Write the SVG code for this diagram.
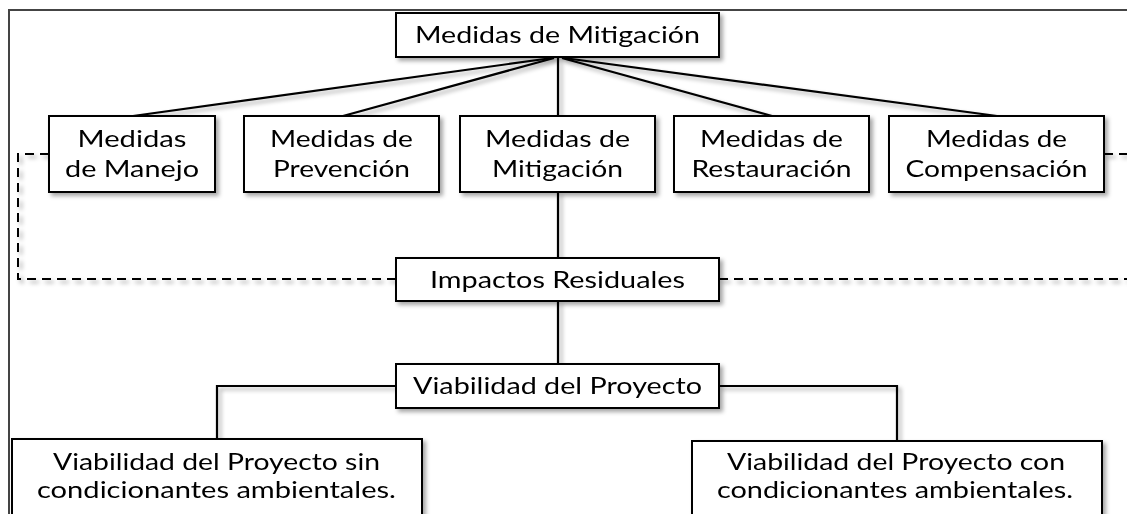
<svg xmlns="http://www.w3.org/2000/svg" width="1127" height="514" viewBox="0 0 1127 514">
<defs>
<style>
.box{fill:#fff;stroke:#000;stroke-width:2}
.t{font-family:Lato,"Open Sans",sans-serif;font-size:23.5px;fill:#000;text-anchor:middle}
.ln{fill:none;stroke:#000;stroke-width:2.2}
.dash{fill:none;stroke:#000;stroke-width:2;stroke-dasharray:9,6}
</style>
<filter id="sh" x="-10%" y="-10%" width="130%" height="140%">
<feDropShadow dx="3" dy="3" stdDeviation="2" flood-color="#000" flood-opacity="0.35"/>
</filter>
</defs>
<rect x="0" y="0" width="1127" height="514" fill="#fff"/>
<path d="M9,514 V10 H1127" fill="none" stroke="#444" stroke-width="2"/>
<g id="connectors" filter="url(#sh)">
<path class="ln" d="M552,58 L133,116"/>
<path class="ln" d="M554,58 L343,116"/>
<path class="ln" d="M558,58 L558,116"/>
<path class="ln" d="M562,58 L772,116"/>
<path class="ln" d="M564,58 L997,116"/>
<path class="ln" d="M558,192 V258"/>
<path class="ln" d="M558,301 V364"/>
<path class="ln" d="M396,386 H217 V439"/>
<path class="ln" d="M719,386 H897 V441"/>
<path class="dash" d="M49,154 H18 V279 H396"/>
<path class="dash" d="M719,279 H1127"/>
<path class="dash" d="M1104,154 H1127"/>
</g>
<g id="n-top" filter="url(#sh)">
<rect class="box" x="396" y="13" width="323" height="44"/>
<text class="t" x="557.5" y="43" textLength="285" lengthAdjust="spacingAndGlyphs">Medidas de Mitigación</text>
</g>
<g id="n-manejo" filter="url(#sh)">
<rect class="box" x="49" y="116" width="166" height="76"/>
<text class="t" x="132" y="147" textLength="109" lengthAdjust="spacingAndGlyphs">Medidas</text>
<text class="t" x="132" y="177" textLength="134" lengthAdjust="spacingAndGlyphs">de Manejo</text>
</g>
<g id="n-prevencion" filter="url(#sh)">
<rect class="box" x="244" y="116" width="195" height="76"/>
<text class="t" x="341.5" y="147" textLength="143" lengthAdjust="spacingAndGlyphs">Medidas de</text>
<text class="t" x="341.5" y="177" textLength="137" lengthAdjust="spacingAndGlyphs">Prevención</text>
</g>
<g id="n-mitigacion" filter="url(#sh)">
<rect class="box" x="460" y="116" width="195" height="76"/>
<text class="t" x="557.5" y="147" textLength="145" lengthAdjust="spacingAndGlyphs">Medidas de</text>
<text class="t" x="557.5" y="177" textLength="131" lengthAdjust="spacingAndGlyphs">Mitigación</text>
</g>
<g id="n-restauracion" filter="url(#sh)">
<rect class="box" x="674" y="116" width="195" height="76"/>
<text class="t" x="771.5" y="147" textLength="143" lengthAdjust="spacingAndGlyphs">Medidas de</text>
<text class="t" x="771.5" y="177" textLength="160" lengthAdjust="spacingAndGlyphs">Restauración</text>
</g>
<g id="n-compensacion" filter="url(#sh)">
<rect class="box" x="889" y="116" width="215" height="76"/>
<text class="t" x="996.5" y="147" textLength="141" lengthAdjust="spacingAndGlyphs">Medidas de</text>
<text class="t" x="996.5" y="177" textLength="182" lengthAdjust="spacingAndGlyphs">Compensación</text>
</g>
<g id="n-impactos" filter="url(#sh)">
<rect class="box" x="396" y="258" width="323" height="43"/>
<text class="t" x="557.5" y="288" textLength="255" lengthAdjust="spacingAndGlyphs">Impactos Residuales</text>
</g>
<g id="n-viabilidad" filter="url(#sh)">
<rect class="box" x="396" y="364" width="323" height="44"/>
<text class="t" x="557.5" y="394" textLength="289" lengthAdjust="spacingAndGlyphs">Viabilidad del Proyecto</text>
</g>
<g id="n-sin" filter="url(#sh)">
<rect class="box" x="12" y="439" width="410" height="90"/>
<text class="t" x="216.5" y="470" textLength="327" lengthAdjust="spacingAndGlyphs">Viabilidad del Proyecto sin</text>
<text class="t" x="216.5" y="498" textLength="359" lengthAdjust="spacingAndGlyphs">condicionantes ambientales.</text>
</g>
<g id="n-con" filter="url(#sh)">
<rect class="box" x="692" y="441" width="410" height="90"/>
<text class="t" x="896" y="470" textLength="338" lengthAdjust="spacingAndGlyphs">Viabilidad del Proyecto con</text>
<text class="t" x="895" y="498" textLength="356" lengthAdjust="spacingAndGlyphs">condicionantes ambientales.</text>
</g>
</svg>
